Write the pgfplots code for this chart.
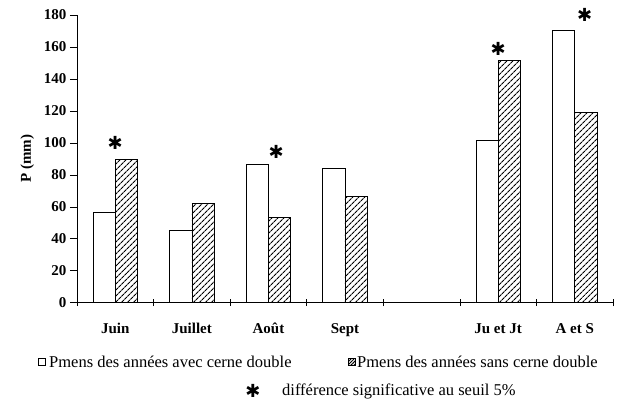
\documentclass[border=0pt]{standalone}
\usepackage{fontspec}
\setmainfont{Liberation Serif}
\newfontfamily\dejavu{DejaVu Sans}
\usepackage{pgfplots}
\pgfplotsset{compat=1.18}
\usetikzlibrary{patterns.meta,calc}

\begin{document}
\begin{tikzpicture}
\begin{axis}[
  name=ax, anchor=south west,
  scale only axis, width=536pt, height=287.7pt,
  xmin=-0.5, xmax=6.5, ymin=0, ymax=180,
  clip=false,
  axis x line*=bottom, axis y line*=left,
  axis line style={-, line width=0.6pt},
  ytick={0,20,...,180},
  xtick={0,1,2,3,5,6},
  xticklabels={Juin,Juillet,Août,Sept,Ju et Jt,A et S},
  minor xtick={-0.5,0.5,...,6.5},
  tick align=outside,
  major tick length=7pt, minor tick length=7pt,
  major x tick style={draw=none},
  minor x tick style={black, line width=0.6pt, yshift=3.5pt},
  major y tick style={black, line width=0.6pt},
  /pgf/number format/assume math mode=true,
  ticklabel style={font=\fontsize{15}{17}\selectfont\bfseries},
  xticklabel style={yshift=-10pt},
  ylabel={P (mm)},
  ylabel style={font=\fontsize{15}{17}\selectfont\bfseries, at={(axis description cs:-0.093,0.5)}, anchor=center},
]
\addplot[ybar, bar width=0.29, bar shift=-0.145, draw=black, line width=0.6pt, fill=white]
  coordinates {(0,56.6) (1,45.5) (2,86.6) (3,83.9) (5,101.8) (6,170.4)};
\addplot[ybar, bar width=0.29, bar shift=0.145, draw=black, line width=0.6pt,
  pattern={Lines[angle=45,distance=4pt,line width=1.2pt]}]
  coordinates {(0,89.7) (1,62.2) (2,53.2) (3,66.3) (5,151.7) (6,119.3)};
\addplot[draw=none, mark=none,
  nodes near coords={\dejavu\bfseries ✱},
  every node near coord/.style={anchor=center, font=\fontsize{18}{20}\selectfont}]
  coordinates {(0,100) (2.1,94.3) (5,158.8) (6.13,180)};
\end{axis}
\coordinate (O) at ($(ax.south west)+(-77pt,-102.3pt)$);
% legend
\draw[line width=0.5pt] ($(O)+(38pt,39.5pt)$) rectangle ++(7pt,7pt);
\node[anchor=west, inner sep=0pt, font=\fontsize{16.5}{18}\selectfont] at ($(O)+(49pt,43pt)$) {Pmens des années avec cerne double};
\draw[line width=0.5pt, pattern={Lines[angle=45,distance=2.2pt,line width=0.9pt]}] ($(O)+(348pt,39.5pt)$) rectangle ++(7pt,7pt);
\node[anchor=west, inner sep=0pt, font=\fontsize{16.5}{18}\selectfont] at ($(O)+(357pt,43pt)$) {Pmens des années sans cerne double};
\node[anchor=center, inner sep=0pt, font=\fontsize{18}{20}\selectfont\dejavu\bfseries] at ($(O)+(253pt,14pt)$) {✱};
\node[anchor=west, inner sep=0pt, font=\fontsize{16.5}{18}\selectfont] at ($(O)+(282pt,14pt)$) {différence significative au seuil 5\%};
\pgfresetboundingbox
\useasboundingbox (O) rectangle ++(622pt,405pt);
\end{tikzpicture}
\end{document}
